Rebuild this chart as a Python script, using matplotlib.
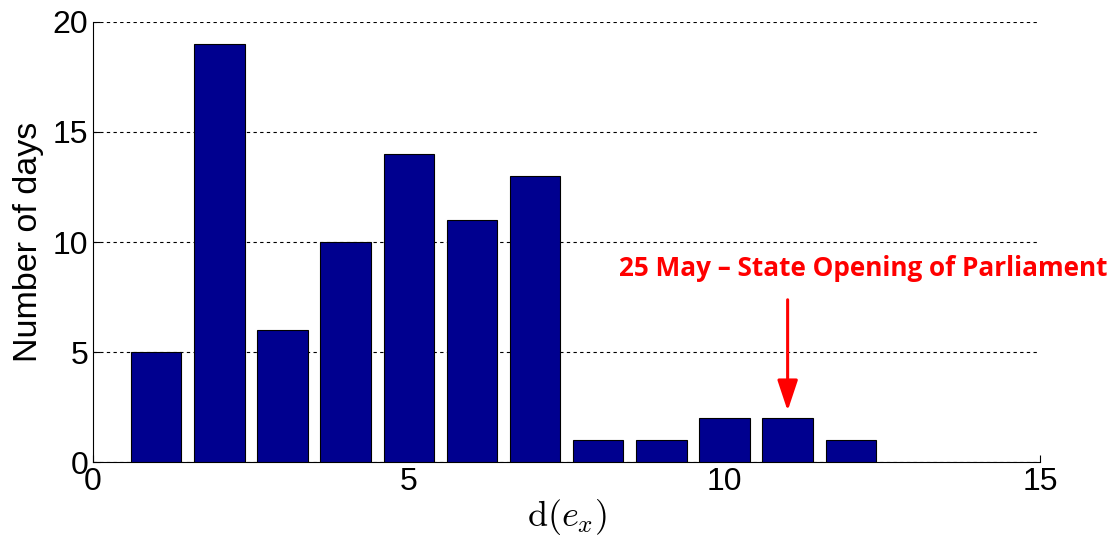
import numpy as np
import matplotlib.pyplot as plt

# values
bins = [1, 2, 3, 4, 5, 6, 7, 8, 9, 10, 11, 12]
days = [5, 19, 6, 10, 14, 11, 13, 1, 1, 2, 2, 1]
event_x = 11
event_label = '25 May \u2013 State Opening of Parliament'

plt.rcParams['font.family'] = ['Liberation Sans', 'DejaVu Sans']
plt.rcParams['mathtext.fontset'] = 'cm'

fig = plt.figure(figsize=(11.13, 5.40), dpi=100)
ax = fig.add_axes([0.0836, 0.1444, 0.851, 0.8149])

ax.bar(bins, days, width=0.8, color='#00008f', edgecolor='black', linewidth=0.8, zorder=3)

ax.set_xlim(0, 15)
ax.set_ylim(0, 20)
ax.set_xticks([0, 5, 10, 15])
ax.set_yticks([0, 5, 10, 15, 20])
ax.yaxis.grid(True, linestyle=(0, (3, 3)), color='black', linewidth=0.8, zorder=0)
ax.tick_params(direction='in', labelsize=23, length=5)
for s in ['top', 'right']:
    ax.spines[s].set_visible(False)

ax.set_ylabel('Number of days', fontsize=24.5, labelpad=6)
ax.set_xlabel(r'$\mathrm{d}(e_x)$', fontsize=26, labelpad=0)

ax.annotate('', xy=(event_x, 2.2), xytext=(event_x, 7.5),
            arrowprops=dict(arrowstyle='-|>,head_width=0.25,head_length=0.75',
                            color='red', lw=2.2, mutation_scale=25))
ax.text(12.2, 8.8, event_label, color='red', fontsize=18.8, fontweight='bold',
        family=['Open Sans', 'DejaVu Sans'], ha='center', va='center', clip_on=False)

fig.savefig('out.png', dpi=100)
